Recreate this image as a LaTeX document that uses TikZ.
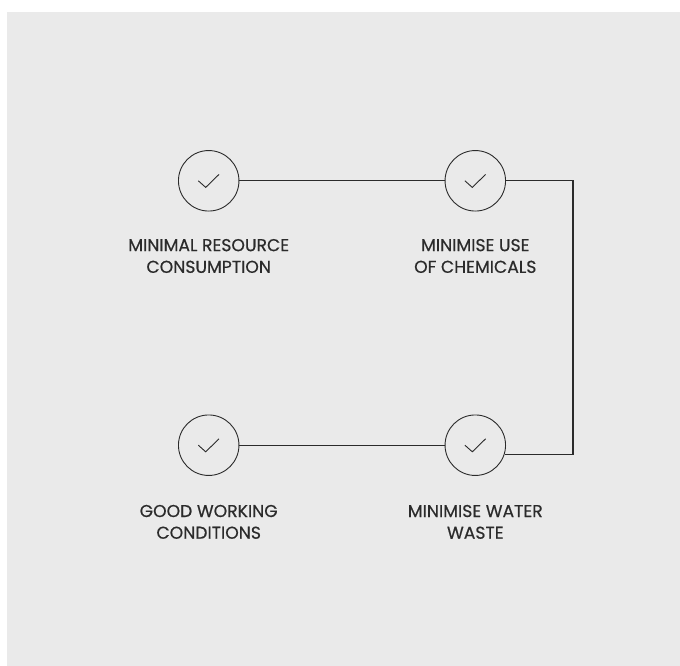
\documentclass[tikz,border=0pt]{standalone}
\usepackage{fontspec}
\setmainfont{Poppins}
\newfontfamily\lblfont{Poppins}[FakeBold=0.5]
\usetikzlibrary{positioning,calc}

\definecolor{panel}{HTML}{EAEAEA}
\definecolor{ink}{HTML}{2B2B2B}

\tikzset{
	tick/.style={circle, draw=ink, line width=0.9pt, minimum size=60.5pt, inner sep=0pt},
	lbl/.style={align=center, inner sep=0pt, text=ink, font=\lblfont\fontsize{17.2}{21.7}\selectfont},
	link/.style={draw=ink, line width=1.1pt}
}

\newcommand{\checkin}[1]{\draw[ink, line width=0.9pt] ($(#1)+(-10.4,0)$) -- ++(7.4,6.6) -- ++(13.3,-13);}

\begin{document}
\begin{tikzpicture}[x=1pt, y=-1pt]

	% panel
	\useasboundingbox (0,0) rectangle (680,666);
	\fill[panel] (7,12) rectangle (680,666);

	% circles
	\node[tick] (c1) at (208.7,180.8) {};
	\node[tick] (c2) at (475.3,180.8) {};
	\node[tick] (c3) at (208.7,445.2) {};
	\node[tick] (c4) at (475.3,445.2) {};
	\foreach \c in {c1,c2,c3,c4}
		\checkin{\c};

	% labels
	\node[lbl, below=27.3pt of c1] (l1) {MINIMAL RESOURCE\\CONSUMPTION};
	\node[lbl, below=27.3pt of c2] (l2) {MINIMISE USE\\OF CHEMICALS};
	\node[lbl, below=28.8pt of c3] (l3) {GOOD WORKING\\CONDITIONS};
	\node[lbl, below=28.8pt of c4] (l4) {MINIMISE WATER\\WASTE};

	% connectors
	\coordinate (turn) at (573,180.8);
	\draw[link] (c1) -- (c2);
	\draw[link] (c2.east) -- (turn) |- (c4.-17.5);
	\draw[link] (c3) -- (c4);

\end{tikzpicture}
\end{document}
